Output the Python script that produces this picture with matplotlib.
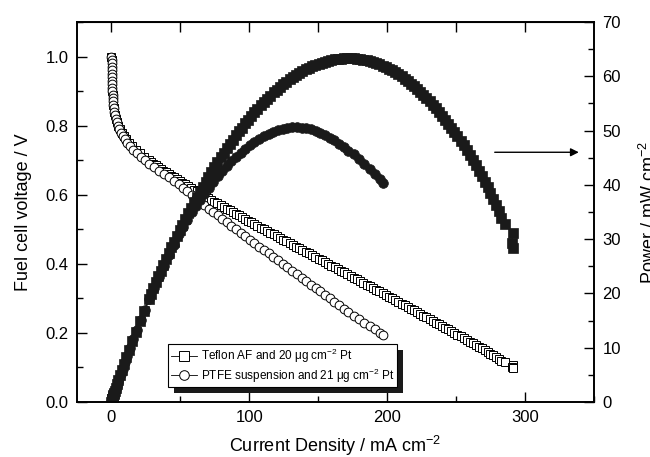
import matplotlib
matplotlib.use("Agg")
import matplotlib.pyplot as plt
from matplotlib.ticker import MultipleLocator
from matplotlib.patches import Rectangle
from matplotlib.transforms import IdentityTransform

plt.rcParams["font.family"] = ["Liberation Sans", "DejaVu Sans"]
plt.rcParams["mathtext.fontset"] = "custom"
plt.rcParams["mathtext.rm"] = "Liberation Sans"
plt.rcParams["mathtext.default"] = "regular"

# Teflon AF, 20 ug/cm2 Pt : current density (mA/cm2), voltage (V), power (mW/cm2)
j_teflon = [0.0, 0.05, 0.1, 0.15, 0.2, 0.25, 0.3, 0.4, 0.5, 0.6, 0.7, 0.85, 1.0, 1.2, 1.4, 1.7, 2.0, 2.5, 3.2, 4.0,
            5.0, 6.2, 7.5, 9.0, 10.8, 12.8, 15.1, 17.7, 20.6, 23.7, 27.0,
            28.7, 30.4, 32.2, 34.0, 35.8, 37.7, 39.6, 41.5, 43.5, 45.4, 47.4, 49.4, 51.4, 53.5, 55.6, 57.7, 59.8,
            61.9, 64.0, 66.1, 68.2, 70.3, 72.5, 74.7, 76.9, 79.1, 81.3, 83.5, 85.7, 87.9, 90.1, 92.3,
            94.5, 96.8, 99.0, 101.3, 103.6, 105.9, 108.3, 110.6, 112.9, 115.2, 117.6, 119.9, 122.2, 124.6,
            126.9, 129.2, 131.5, 133.9, 136.2, 138.5, 140.8, 143.2, 145.5, 147.8, 150.2, 152.5, 154.8, 157.1,
            159.5, 161.8, 164.1, 166.4, 168.8, 171.1, 173.4, 175.8, 178.1, 180.4, 182.7, 185.1, 187.4, 189.7,
            192.0, 194.4, 196.7, 199.0, 201.4, 203.7, 205.9, 208.2, 210.4, 212.7, 214.9, 217.2, 219.4, 221.7,
            223.9, 226.2, 228.4, 230.7, 232.9, 235.2, 237.4, 239.7, 241.9, 244.2, 246.4, 248.7, 250.9, 253.2,
            255.4, 257.7, 259.9, 262.0, 264.2, 266.3, 268.5, 270.6, 272.8, 274.9, 276.9, 278.9, 280.9, 282.9,
            285.5, 291.0, 290.4, 291.5]
v_teflon = [1.00, 0.99, 0.98, 0.97, 0.96, 0.95, 0.94, 0.93, 0.92, 0.91, 0.90, 0.89, 0.88, 0.87, 0.86, 0.85, 0.84,
            0.83, 0.82, 0.81, 0.80, 0.79, 0.78, 0.77, 0.76, 0.75, 0.74, 0.73, 0.72, 0.71, 0.70,
            0.695, 0.69, 0.685, 0.68, 0.675, 0.67, 0.665, 0.66, 0.655, 0.65, 0.645, 0.64, 0.635, 0.63, 0.625,
            0.62, 0.615, 0.61, 0.605, 0.60, 0.595, 0.59, 0.585, 0.58, 0.575, 0.57, 0.565, 0.56, 0.555, 0.55,
            0.545, 0.54, 0.535, 0.53, 0.525, 0.52, 0.515, 0.51, 0.505, 0.50, 0.495, 0.49, 0.485, 0.48, 0.475,
            0.47, 0.465, 0.46, 0.455, 0.45, 0.445, 0.44, 0.435, 0.43, 0.425, 0.42, 0.415, 0.41, 0.405, 0.40,
            0.395, 0.39, 0.385, 0.38, 0.375, 0.37, 0.365, 0.36, 0.355, 0.35, 0.345, 0.34, 0.335, 0.33, 0.325,
            0.32, 0.315, 0.31, 0.305, 0.30, 0.295, 0.29, 0.285, 0.28, 0.275, 0.27, 0.265, 0.26, 0.255, 0.25,
            0.245, 0.24, 0.235, 0.23, 0.225, 0.22, 0.215, 0.21, 0.205, 0.20, 0.195, 0.19, 0.185, 0.18, 0.175,
            0.17, 0.165, 0.16, 0.155, 0.15, 0.145, 0.14, 0.135, 0.13, 0.125, 0.12, 0.115, 0.107, 0.101, 0.097]
p_teflon = [0.0, 0.05, 0.1, 0.15, 0.19, 0.24, 0.28, 0.37, 0.46, 0.55, 0.63, 0.76, 0.88, 1.04, 1.2, 1.45, 1.68,
            2.08, 2.62, 3.24, 4.0, 4.9, 5.85, 6.93, 8.21, 9.6, 11.17, 12.92, 14.83, 16.83, 18.9,
            19.95, 20.98, 22.06, 23.12, 24.17, 25.26, 26.33, 27.39, 28.49, 29.51, 30.57, 31.62, 32.64, 33.71,
            34.75, 35.77, 36.78, 37.76, 38.72, 39.66, 40.58, 41.48, 42.41, 43.33, 44.22, 45.09, 45.93, 46.76,
            47.56, 48.35, 49.10, 49.84, 50.56, 51.30, 51.98, 52.68, 53.35, 54.01, 54.69, 55.30, 55.89, 56.45,
            57.04, 57.55, 58.05, 58.56, 59.01, 59.43, 59.83, 60.26, 60.61, 60.94, 61.25, 61.58, 61.84, 62.08,
            62.33, 62.53, 62.69, 62.84, 63.00, 63.10, 63.18, 63.23, 63.30, 63.31, 63.29, 63.29, 63.23, 63.14,
            63.03, 62.93, 62.78, 62.60, 62.40, 62.21, 61.96, 61.69, 61.43, 61.11, 60.74, 60.38, 59.96, 59.56,
            59.10, 58.64, 58.14, 57.64, 57.09, 56.55, 55.96, 55.37, 54.73, 54.10, 53.42, 52.73, 52.01, 51.28,
            50.51, 49.74, 48.93, 48.11, 47.25, 46.39, 45.48, 44.54, 43.59, 42.61, 41.62, 40.59, 39.56, 38.49,
            37.38, 36.26, 35.11, 33.95, 32.8, 31.1, 29.3, 28.3]

# PTFE suspension, 21 ug/cm2 Pt
j_ptfe = [0.0, 0.05, 0.1, 0.15, 0.2, 0.25, 0.3, 0.38, 0.46, 0.55, 0.65, 0.78, 0.92, 1.08, 1.3, 1.6, 2.0, 2.5, 3.0,
          3.7, 4.5, 5.5, 6.7, 8.0, 9.6, 11.4, 13.5, 15.8, 18.4, 21.2, 24.2, 27.4, 30.8, 34.3, 37.9, 41.6, 45.3,
          49.0, 52.0, 55.0, 58.2, 61.2, 64.2, 67.2, 70.5, 73.8, 77.1, 80.4, 83.7, 87.0, 90.3, 93.6, 96.9, 100.2,
          103.6, 107.1, 110.5, 113.9, 117.4, 120.8, 124.2, 127.6, 131.1, 134.5, 137.9, 141.3, 144.7, 148.1,
          151.5, 154.9, 158.3, 161.7, 165.1, 168.5, 171.9, 175.7, 179.5, 183.4, 187.2, 191.0, 194.9, 197.0]
v_ptfe = [1.00, 0.99, 0.98, 0.97, 0.96, 0.95, 0.94, 0.93, 0.92, 0.91, 0.90, 0.89, 0.88, 0.87, 0.86, 0.85, 0.84,
          0.83, 0.82, 0.81, 0.80, 0.79, 0.78, 0.77, 0.76, 0.75, 0.74, 0.73, 0.72, 0.71, 0.70, 0.69, 0.68, 0.67,
          0.66, 0.65, 0.64, 0.63, 0.62, 0.61, 0.60, 0.59, 0.58, 0.57, 0.56, 0.55, 0.54, 0.53, 0.52, 0.51, 0.50,
          0.49, 0.48, 0.47, 0.46, 0.45, 0.44, 0.43, 0.42, 0.41, 0.40, 0.39, 0.38, 0.37, 0.36, 0.35, 0.34, 0.33,
          0.32, 0.31, 0.30, 0.29, 0.28, 0.27, 0.26, 0.25, 0.24, 0.23, 0.22, 0.21, 0.20, 0.194]
p_ptfe = [0.0, 0.05, 0.1, 0.15, 0.19, 0.24, 0.28, 0.35, 0.42, 0.5, 0.59, 0.69, 0.81, 0.94, 1.12, 1.36, 1.68, 2.08,
          2.46, 3.0, 3.6, 4.35, 5.23, 6.16, 7.3, 8.55, 9.99, 11.53, 13.25, 15.05, 16.94, 18.91, 20.94, 22.98,
          25.01, 27.04, 28.99, 30.87, 32.24, 33.55, 34.92, 36.11, 37.24, 38.30, 39.48, 40.59, 41.63, 42.61,
          43.52, 44.37, 45.15, 45.86, 46.51, 47.3, 47.9, 48.5, 49.0, 49.4, 49.8, 50.1, 50.3, 50.5, 50.6, 50.6,
          50.5, 50.4, 50.2, 49.9, 49.6, 49.2, 48.7, 48.2, 47.6, 47.0, 46.3, 45.6, 44.8, 43.9, 43.0, 42.0, 41.0,
          40.3]

labels = ["Teflon AF and 20 \u03bcg cm$^{-2}$ Pt", "PTFE suspension and 21 \u03bcg cm$^{-2}$ Pt"]

fig = plt.figure(figsize=(6.5, 4.57), dpi=100)
ax = fig.add_axes([0.1185, 0.1204, 0.7953, 0.8315])
ax2 = ax.twinx()

ax.plot(j_teflon, v_teflon, "-", color="black", lw=0.6, marker="s", ms=6, mfc="white",
        mec="black", mew=0.7, label=labels[0])
ax.plot(j_ptfe, v_ptfe, "-", color="black", lw=0.6, marker="o", ms=6.3, mfc="white",
        mec="black", mew=0.7, label=labels[1])

ax2.plot(j_teflon, p_teflon, "-", color="#1a1a1a", lw=1, marker="s", ms=6.5,
         mfc="#1a1a1a", mec="#1a1a1a", mew=0.5)
ax2.plot(j_ptfe, p_ptfe, "-", color="#1a1a1a", lw=1, marker="o", ms=7,
         mfc="#1a1a1a", mec="#1a1a1a", mew=0.5)

ax.set_xlim(-25, 350)
ax.set_ylim(0, 1.1)
ax2.set_ylim(0, 70)

ax.xaxis.set_major_locator(MultipleLocator(100))
ax.xaxis.set_minor_locator(MultipleLocator(50))
ax.yaxis.set_major_locator(MultipleLocator(0.2))
ax.yaxis.set_minor_locator(MultipleLocator(0.1))
ax2.yaxis.set_major_locator(MultipleLocator(10))
ax2.yaxis.set_minor_locator(MultipleLocator(5))
ax.set_yticks([0.0, 0.2, 0.4, 0.6, 0.8, 1.0])
ax.set_yticklabels(["0.0", "0.2", "0.4", "0.6", "0.8", "1.0"])

ax.tick_params(axis="both", which="major", direction="in", length=7, width=1, labelsize=12, pad=6)
ax.tick_params(axis="both", which="minor", direction="in", length=4, width=1)
ax.tick_params(axis="y", right=False, which="both")
ax2.tick_params(axis="y", which="major", direction="in", length=7, width=1, labelsize=12, pad=6)
ax2.tick_params(axis="y", which="minor", direction="in", length=4, width=1)

top = ax.secondary_xaxis("top")
top.set_xticks([0, 50, 100, 150, 200, 250, 300])
top.tick_params(direction="in", length=7, width=1, labelsize=0)
top.set_xticklabels([])

for a in (ax, ax2):
    for s in a.spines.values():
        s.set_linewidth(1.2)

ax.set_xlabel("Current Density / mA cm$^{-2}$", fontsize=13, labelpad=6)
ax.set_ylabel("Fuel cell voltage / V", fontsize=13, labelpad=10)
fig.text(0.983, 0.535, "Power / mW cm$^{-2}$", rotation=90, ha="left", va="center", fontsize=13)

ax2.annotate("", xy=(341, 46), xytext=(276, 46),
             arrowprops=dict(arrowstyle="-|>", color="black", lw=1, mutation_scale=12))

leg = ax.legend(loc="lower left", bbox_to_anchor=(0.176, 0.039), fontsize=8.5, frameon=True,
                fancybox=False, shadow=False, edgecolor="black", framealpha=1,
                borderaxespad=0, handlelength=2.2, handletextpad=0.4, labelspacing=0.12,
                borderpad=0.22, markerscale=1.1)
leg.get_frame().set_linewidth(0.8)
leg.set_zorder(10)
ax2.set_zorder(ax.get_zorder() + 1)
ax2.patch.set_visible(False)

# offset black shadow behind the legend box, as in the original figure
fig.canvas.draw()
bb = leg.get_frame().get_window_extent(fig.canvas.get_renderer())
shadow = Rectangle((bb.x0 + 6, bb.y0 - 6), bb.width, bb.height, transform=IdentityTransform(),
                   facecolor="#1a1a1a", edgecolor="none", zorder=9, clip_on=False)
ax.add_artist(shadow)

fig.savefig("out.png", dpi=100)
